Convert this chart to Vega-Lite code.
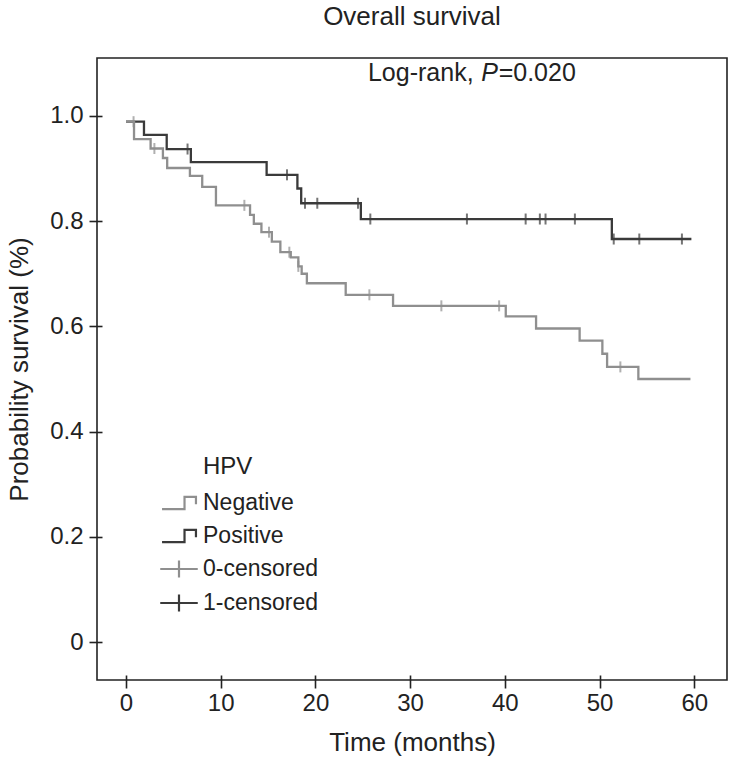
{
  "$schema": "https://vega.github.io/schema/vega-lite/v6.json",
  "width": 630,
  "height": 622,
  "autosize": {"type": "none"},
  "padding": {"left": 97, "top": 58, "right": 4, "bottom": 78},
  "background": "white",
  "config": {
    "font": "Liberation Sans",
    "view": {"stroke": "#222", "strokeWidth": 1.6},
    "axis": {
      "grid": false,
      "domain": false,
      "offset": -5,
      "tickSize": 13,
      "tickWidth": 1.6,
      "tickColor": "#222",
      "labelColor": "#222",
      "labelFontSize": 24,
      "titleFontSize": 26,
      "titleFontWeight": "normal",
      "titleColor": "#222"
    },
    "legend": {"labelColor": "#222"}
  },
  "title": {
    "text": "Overall survival",
    "fontSize": 26,
    "fontWeight": "normal",
    "color": "#222",
    "anchor": "middle",
    "offset": 28
  },
  "datasets": {
    "curves": [
      {"key": "Positive", "t": 0, "s": 0.989},
      {"key": "Positive", "t": 1.9, "s": 0.964},
      {"key": "Positive", "t": 4.3, "s": 0.937},
      {"key": "Positive", "t": 6.85, "s": 0.912},
      {"key": "Positive", "t": 14.85, "s": 0.888},
      {"key": "Positive", "t": 18.1, "s": 0.862},
      {"key": "Positive", "t": 18.5, "s": 0.834},
      {"key": "Positive", "t": 24.8, "s": 0.804},
      {"key": "Positive", "t": 51.3, "s": 0.766},
      {"key": "Positive", "t": 59.7, "s": 0.766},
      {"key": "Negative", "t": 0, "s": 0.989},
      {"key": "Negative", "t": 0.85, "s": 0.956},
      {"key": "Negative", "t": 2.6, "s": 0.938},
      {"key": "Negative", "t": 3.9, "s": 0.92},
      {"key": "Negative", "t": 4.35, "s": 0.901},
      {"key": "Negative", "t": 6.75, "s": 0.886},
      {"key": "Negative", "t": 8.05, "s": 0.865},
      {"key": "Negative", "t": 9.5, "s": 0.83},
      {"key": "Negative", "t": 13.1, "s": 0.812},
      {"key": "Negative", "t": 13.5, "s": 0.795},
      {"key": "Negative", "t": 14.3, "s": 0.779},
      {"key": "Negative", "t": 15.4, "s": 0.761},
      {"key": "Negative", "t": 16.3, "s": 0.741},
      {"key": "Negative", "t": 17.4, "s": 0.731},
      {"key": "Negative", "t": 18.2, "s": 0.714},
      {"key": "Negative", "t": 18.55, "s": 0.7},
      {"key": "Negative", "t": 19.1, "s": 0.682},
      {"key": "Negative", "t": 23.2, "s": 0.66},
      {"key": "Negative", "t": 28.2, "s": 0.639},
      {"key": "Negative", "t": 40.1, "s": 0.619},
      {"key": "Negative", "t": 43.3, "s": 0.596},
      {"key": "Negative", "t": 47.9, "s": 0.573},
      {"key": "Negative", "t": 50.3, "s": 0.548},
      {"key": "Negative", "t": 50.8, "s": 0.523},
      {"key": "Negative", "t": 54.1, "s": 0.5},
      {"key": "Negative", "t": 59.6, "s": 0.5}
    ],
    "censors": [
      {"key": "1-censored", "t": 6.5, "s": 0.937},
      {"key": "1-censored", "t": 17.0, "s": 0.888},
      {"key": "1-censored", "t": 18.9, "s": 0.834},
      {"key": "1-censored", "t": 20.2, "s": 0.834},
      {"key": "1-censored", "t": 24.5, "s": 0.834},
      {"key": "1-censored", "t": 25.8, "s": 0.804},
      {"key": "1-censored", "t": 36.0, "s": 0.804},
      {"key": "1-censored", "t": 42.2, "s": 0.804},
      {"key": "1-censored", "t": 43.7, "s": 0.804},
      {"key": "1-censored", "t": 44.3, "s": 0.804},
      {"key": "1-censored", "t": 47.4, "s": 0.804},
      {"key": "1-censored", "t": 51.5, "s": 0.766},
      {"key": "1-censored", "t": 54.2, "s": 0.766},
      {"key": "1-censored", "t": 58.7, "s": 0.766},
      {"key": "0-censored", "t": 0.8, "s": 0.989},
      {"key": "0-censored", "t": 3.0, "s": 0.938},
      {"key": "0-censored", "t": 12.5, "s": 0.83},
      {"key": "0-censored", "t": 15.1, "s": 0.779},
      {"key": "0-censored", "t": 17.25, "s": 0.741},
      {"key": "0-censored", "t": 18.2, "s": 0.714},
      {"key": "0-censored", "t": 25.7, "s": 0.66},
      {"key": "0-censored", "t": 33.3, "s": 0.639},
      {"key": "0-censored", "t": 39.4, "s": 0.639},
      {"key": "0-censored", "t": 52.2, "s": 0.523}
    ],
    "legendkeys": [
      {"key": "Negative", "t": 30, "s": 0.2},
      {"key": "Positive", "t": 30, "s": 0.2},
      {"key": "0-censored", "t": 30, "s": 0.2},
      {"key": "1-censored", "t": 30, "s": 0.2}
    ]
  },
  "encoding": {
    "x": {
      "field": "t",
      "type": "quantitative",
      "scale": {"domain": [-3.06, 63.46], "nice": false, "zero": false},
      "axis": {
        "values": [0, 10, 20, 30, 40, 50, 60],
        "format": "d",
        "labelPadding": 3,
        "title": "Time (months)",
        "titlePadding": 14
      }
    },
    "y": {
      "field": "s",
      "type": "quantitative",
      "scale": {"domain": [-0.072, 1.11], "nice": false, "zero": false},
      "axis": {
        "values": [0, 0.2, 0.4, 0.6, 0.8, 1.0],
        "labelExpr": "datum.value == 0 ? '0' : format(datum.value, '.1f')",
        "labelPadding": 6,
        "title": "Probability survival (%)",
        "titlePadding": 17
      }
    }
  },
  "layer": [
    {
      "data": {"name": "curves"},
      "mark": {"type": "line", "interpolate": "step-after", "strokeWidth": 2.3},
      "encoding": {
        "stroke": {
          "field": "key",
          "type": "nominal",
          "scale": {"domain": ["Negative", "Positive"], "range": ["#8f8f8f", "#3a3a3a"]},
          "legend": null
        }
      }
    },
    {
      "data": {"name": "censors"},
      "mark": {"type": "tick", "orient": "vertical", "size": 11, "thickness": 2},
      "encoding": {
        "fill": {
          "field": "key",
          "type": "nominal",
          "scale": {"domain": ["0-censored", "1-censored"], "range": ["#8f8f8f", "#3a3a3a"]},
          "legend": null
        }
      }
    },
    {
      "data": {"name": "legendkeys"},
      "mark": {"type": "point", "filled": false, "strokeWidth": 2.2, "opacity": 0},
      "encoding": {
        "color": {
          "field": "key",
          "type": "nominal",
          "scale": {"domain": ["Negative", "Positive", "0-censored", "1-censored"], "range": ["#8f8f8f", "#3a3a3a", "#8f8f8f", "#3a3a3a"]},
          "legend": {
            "title": null,
            "orient": "none",
            "legendX": 68,
            "legendY": 431,
            "symbolSize": 660,
            "symbolStrokeWidth": 2.2,
            "symbolOpacity": 1,
            "labelFontSize": 23,
            "labelOffset": 10,
            "rowPadding": 7
          }
        },
        "shape": {
          "field": "key",
          "type": "nominal",
          "scale": {
            "domain": ["Negative", "Positive", "0-censored", "1-censored"],
            "range": ["M-1.32,0.47H0.43V-0.47H1.32V0.1", "M-1.32,0.47H0.43V-0.47H1.32V0.1", "M-1.46,0H1.46M0,-0.66V0.66", "M-1.46,0H1.46M0,-0.66V0.66"]
          },
          "legend": {
            "title": null,
            "orient": "none",
            "legendX": 68,
            "legendY": 431,
            "symbolSize": 660,
            "symbolStrokeWidth": 2.2,
            "symbolOpacity": 1,
            "labelFontSize": 23,
            "labelOffset": 10,
            "rowPadding": 7
          }
        }
      }
    },
    {
      "data": {"values": [
        {"t": 25.55, "s": 1.082, "label": "Log-rank,"},
        {"t": 39.35, "s": 1.082, "label": "=0.020"}
      ]},
      "mark": {"type": "text", "align": "left", "baseline": "middle", "fontSize": 25, "color": "#222"},
      "encoding": {"text": {"field": "label"}}
    },
    {
      "data": {"values": [{"t": 37.5, "s": 1.082, "label": "P"}]},
      "mark": {"type": "text", "align": "left", "baseline": "middle", "fontSize": 25, "fontStyle": "italic", "color": "#222"},
      "encoding": {"text": {"field": "label"}}
    },
    {
      "data": {"values": [{"t": 8.13, "s": 0.333, "label": "HPV"}]},
      "mark": {"type": "text", "align": "left", "baseline": "middle", "fontSize": 24, "color": "#222"},
      "encoding": {"text": {"field": "label"}}
    }
  ]
}
